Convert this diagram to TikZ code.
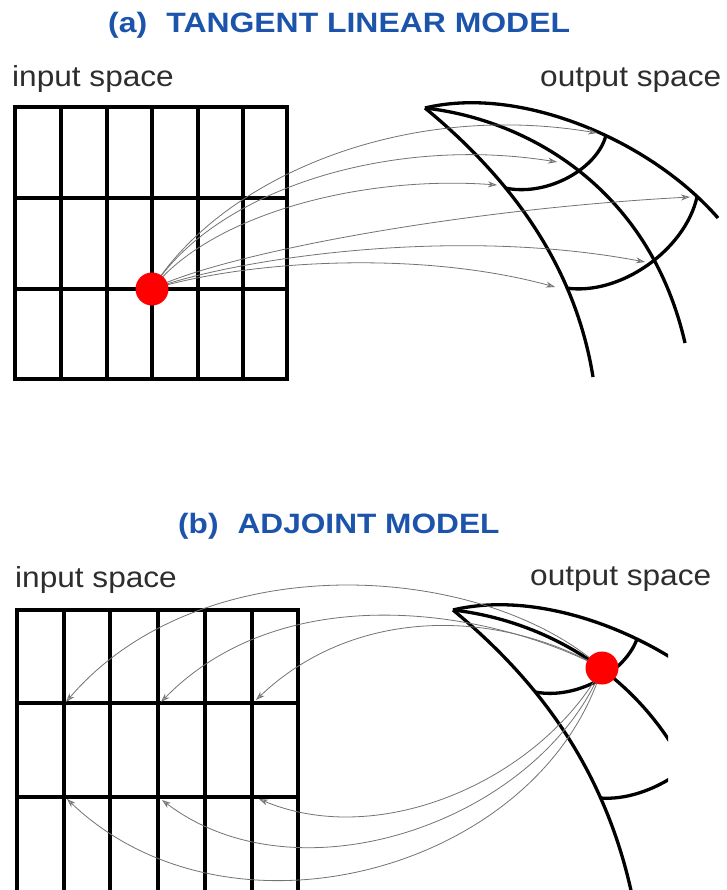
\documentclass[tikz,border=0pt]{standalone}
\usepackage{fontspec}
\setmainfont{Liberation Sans}
\usetikzlibrary{arrows.meta}
\definecolor{titleblue}{RGB}{28,84,172}
\definecolor{labelgray}{RGB}{45,45,45}
\begin{document}
\begin{tikzpicture}[x=1pt,y=-1pt,
  gridline/.style={line width=3.3pt, black},
  curve/.style={line width=3.3pt, black, line join=round},
  ray/.style={line width=0.8pt, black!55, -{Stealth[length=9pt,width=6pt,fill=black!30]}},
  dotstyle/.style={circle, fill=red, minimum size=33pt, inner sep=0pt},
  title/.style={anchor=base west, text=titleblue, font=\fontsize{28}{28}\selectfont\bfseries, inner sep=0pt},
  lab/.style={anchor=base west, text=labelgray, font=\fontsize{29}{29}\selectfont, inner sep=0pt}]
\clip (0,0) rectangle (726,890);
\fill[white] (0,0) rectangle (726,890);

% ---------- titles and labels
\node[title] (ta) at (108,33) {\scalebox{1.14}[1]{(a)\hspace{0.6em}TANGENT LINEAR MODEL}};
\node[lab] (ina) at (12,87) {\scalebox{1.09}[1]{input space}};
\node[lab] (outa) at (540,87) {\scalebox{1.09}[1]{output space}};
\node[title] (tb) at (178,533) {\scalebox{1.13}[1]{(b)\hspace{0.6em}ADJOINT MODEL}};
\node[lab] (inb) at (15,587) {\scalebox{1.09}[1]{input space}};
\node[lab] (outb) at (530,585) {\scalebox{1.09}[1]{output space}};

% ---------- top input grid
\draw[gridline] (15,107) rectangle (287,379);
\foreach \x in {61,107,152,198,243} \draw[gridline] (\x,107) -- (\x,379);
\foreach \y in {198,289} \draw[gridline] (15,\y) -- (287,\y);

% ---------- top output grid
\coordinate (apA) at (425,108);
\coordinate (i1) at (505,188);
\coordinate (o1) at (606,135);
\coordinate (i2) at (566,288);
\coordinate (o2) at (697,197);
\draw[curve] (apA) .. controls (520,85) and (650,140) .. (718,218);
\draw[curve] (apA) .. controls (530,120) and (650,190) .. (685,343);
\draw[curve] (apA) .. controls (510,178) and (575,265) .. (593,377);
\draw[curve] (i1) .. controls (548,197) and (598,168) .. (o1);
\draw[curve] (i2) .. controls (620,296) and (685,250) .. (o2);

% ---------- top rays
\coordinate (dA) at (152,289);
\coordinate (t1) at (597,133);
\coordinate (t2) at (557,162);
\coordinate (t3) at (497,185);
\coordinate (t4) at (690,197);
\coordinate (t5) at (645,262);
\coordinate (t6) at (555,287);
\draw[ray] (dA) .. controls (220,180) and (400,100) .. (t1);
\draw[ray] (dA) .. controls (215,190) and (390,135) .. (t2);
\draw[ray] (dA) .. controls (210,215) and (360,175) .. (t3);
\draw[ray] (dA) .. controls (220,255) and (450,210) .. (t4);
\draw[ray] (dA) .. controls (230,260) and (450,225) .. (t5);
\draw[ray] (dA) .. controls (250,260) and (420,250) .. (t6);
\node[dotstyle] (redA) at (dA) {};

% ---------- bottom input grid
\draw[gridline] (17,900) -- (17,610) -- (298,610) -- (298,900);
\foreach \x in {64,110,158,205,252} \draw[gridline] (\x,610) -- (\x,900);
\foreach \y in {703,797} \draw[gridline] (17,\y) -- (298,\y);

% ---------- bottom output grid (cut at the right)
\coordinate (apB) at (453,610);
\coordinate (j1) at (535,692);
\coordinate (p1) at (637,639);
\coordinate (j2) at (600,798);
\coordinate (p2) at (727,705);
\begin{scope}
\clip (430,580) rectangle (668,890);
\draw[curve] (apB) .. controls (548,587) and (678,642) .. (746,720);
\draw[curve] (apB) .. controls (558,622) and (678,692) .. (713,845);
\draw[curve] (apB) .. controls (540,682) and (605,770) .. (632,895);
\draw[curve] (j1) .. controls (577,700) and (625,672) .. (p1);
\draw[curve] (j2) .. controls (650,802) and (715,760) .. (p2);
\end{scope}

% ---------- bottom rays
\coordinate (dB) at (602,668);
\coordinate (q1) at (66,702);
\coordinate (q2) at (161,702);
\coordinate (q3) at (256,700);
\coordinate (r1) at (67,799);
\coordinate (r2) at (162,800);
\coordinate (r3) at (259,799);
\draw[ray] (dB) .. controls (480,560) and (200,545) .. (q1);
\draw[ray] (dB) .. controls (480,605) and (280,580) .. (q2);
\draw[ray] (dB) .. controls (490,605) and (350,610) .. (q3);
\draw[ray] (dB) .. controls (540,870) and (230,955) .. (r1);
\draw[ray] (dB) .. controls (540,820) and (300,905) .. (r2);
\draw[ray] (dB) .. controls (540,780) and (380,850) .. (r3);
\node[dotstyle] (redB) at (dB) {};
\end{tikzpicture}
\end{document}
